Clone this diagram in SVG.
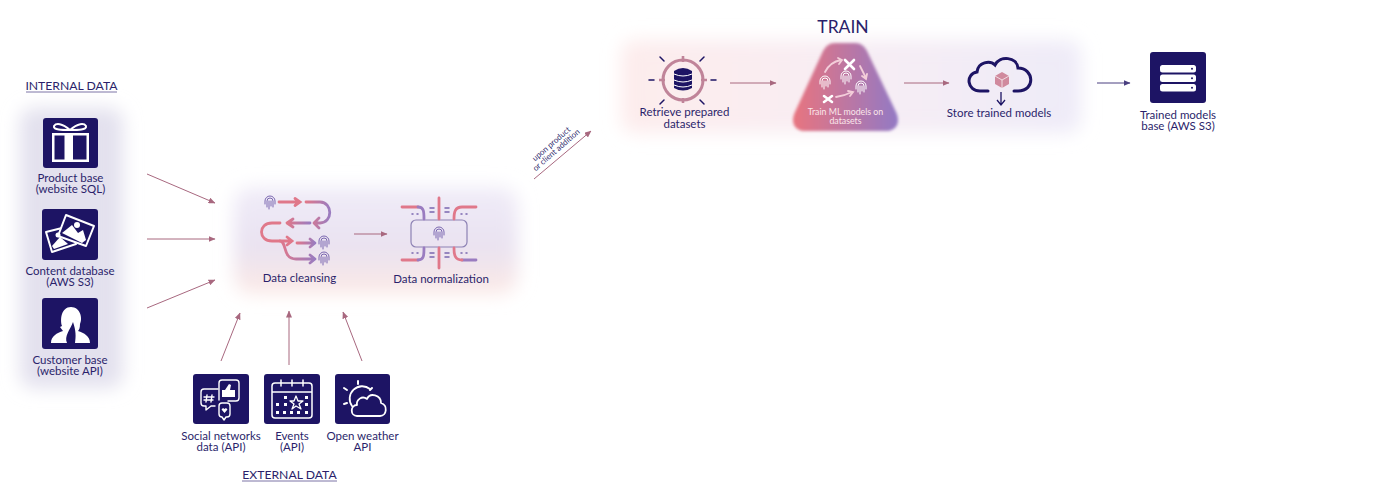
<svg xmlns="http://www.w3.org/2000/svg" width="1400" height="499" viewBox="0 0 1400 499">
<style>
text{font-family:"Lato","Noto Sans",sans-serif;fill:#2b1f6b;font-size:11.5px;text-anchor:middle}
.h{font-size:12.2px;fill:#2b1f6b}
.tile{fill:#1d1464}
.w{fill:none;stroke:#fff;stroke-width:2;stroke-linecap:round;stroke-linejoin:round}
.wf{fill:#fff}
.c{fill:none;stroke:#a8687f;stroke-width:1;marker-end:url(#ah)}
.p{fill:none;stroke:url(#fl);stroke-width:2.8;stroke-linecap:round;stroke-linejoin:round}
.r{fill:none;stroke:#e0788a;stroke-width:2.8;stroke-linecap:round}
.v{fill:none;stroke:#9a7cc0;stroke-width:2.8;stroke-linecap:round}
.fp{fill:none;stroke:#7a66b0;stroke-width:1;stroke-linecap:round}
.dot{fill:none;stroke:#7a66b0;stroke-width:1.5;stroke-linecap:round}
.d{fill:none;stroke:#1d1464;stroke-width:3;stroke-linecap:round}
</style>
<defs>
<marker id="ah" markerWidth="7" markerHeight="6" refX="6.500" refY="3" orient="auto" markerUnits="userSpaceOnUse"><path d="M0 0L7 3L0 6z" fill="#a8687f"/></marker>
<marker id="ad" markerWidth="7" markerHeight="6" refX="6.500" refY="3" orient="auto" markerUnits="userSpaceOnUse"><path d="M0 0L7 3L0 6z" fill="#4a3f80"/></marker>
<filter id="b" x="-25%" y="-25%" width="150%" height="150%"><feGaussianBlur stdDeviation="9"/></filter>
<filter id="b2" x="-20%" y="-20%" width="140%" height="140%"><feGaussianBlur stdDeviation="1.800"/></filter>
<linearGradient id="pg1" x1="0" y1="0" x2="0" y2="1"><stop offset="0" stop-color="#f0ecf8"/><stop offset=".55" stop-color="#e9e2f1"/><stop offset="1" stop-color="#fce9e5"/></linearGradient>
<linearGradient id="pg2" x1="0" y1="0" x2="1" y2="0"><stop offset="0" stop-color="#fdecec"/><stop offset=".45" stop-color="#f8edf3"/><stop offset="1" stop-color="#eeebf8"/></linearGradient>
<linearGradient id="tg" x1="0" y1="0" x2="1" y2="0"><stop offset="0" stop-color="#e8747f"/><stop offset="1" stop-color="#9379c4"/></linearGradient>
<linearGradient id="fl" x1="0" y1="0" x2="1" y2="0"><stop offset="0" stop-color="#e0788a"/><stop offset="1" stop-color="#9a7cc0"/></linearGradient>
<g id="fp"><path class="fp" d="M-5 2V-1a5 5 0 0 1 10 0V2M-3 5V-1a3 3 0 0 1 6 0V5M-1 7V-1M1 4V-1"/></g>
<g id="fpw"><path d="M-5 2V-1a5 5 0 0 1 10 0V2M-3 5V-1a3 3 0 0 1 6 0V5M-1 7V-1M1 4V-1" fill="none" stroke="#fff" stroke-width="1" stroke-linecap="round"/></g>
</defs>

<g id="panels">
<rect x="20" y="108" width="103" height="280" rx="14" fill="#e3e1ee" filter="url(#b)"/>
<rect x="234" y="187" width="284" height="107" rx="18" fill="url(#pg1)" filter="url(#b)"/>
<rect x="621" y="40" width="460" height="93" rx="14" fill="url(#pg2)" filter="url(#b)"/>
</g>

<g id="connectors">
<path class="c" d="M147 174L215 203"/>
<path class="c" d="M147 239L215 239"/>
<path class="c" d="M147 308L215 280"/>
<path class="c" d="M221 361L240 313"/>
<path class="c" d="M289 365L289 311"/>
<path class="c" d="M362 361L343 312"/>
<path class="c" d="M354 234L387 234"/>
<path class="c" d="M534 179L591 131"/>
<path class="c" d="M730 83L776 83"/>
<path class="c" d="M904 83L949 83"/>
<path d="M1097 83L1130 83" fill="none" stroke="#4a3f80" stroke-width="1" marker-end="url(#ad)"/>
</g>

<g id="internal-title"><text class="h" x="71.500" y="90">INTERNAL DATA</text><path d="M26 92H117" stroke="#5a5190" stroke-width=".8"/></g>

<g id="product-base">
<rect class="tile" x="43" y="118" width="55" height="50" rx="3"/>
<path class="wf" d="M52 133H89V162H52zM54.500 135.500V159.500H64.500V135.500zM73 135.500V159.500H86.500V135.500z" fill-rule="evenodd"/>
<path class="w" d="M70 130C62 123 56 123 54 126C53 130 62 130 70 130C78 130 87 130 86 126C84 123 78 123 70 130"/>
<text x="70.500" y="182">Product base</text><text x="70.500" y="193">(website SQL)</text>
</g>

<g id="content-database">
<rect class="tile" x="42" y="209" width="56" height="51" rx="3"/>
<path d="M46 232L70 226L76 244L52 252z" fill="#1d1464" stroke="#fff" stroke-width="2" stroke-linejoin="round"/>
<path d="M66 215L94 226L86 246L58 236z" fill="#1d1464" stroke="#fff" stroke-width="2" stroke-linejoin="round"/>
<path class="wf" d="M62 233L72 225L78 233L83 230L86 240L82 243z"/><circle class="wf" cx="77" cy="225" r="3"/>
<path class="wf" d="M52 246L60 237L68 244L54 249z"/><circle class="wf" cx="58" cy="235" r="2.500"/>
<text x="70" y="275">Content database</text><text x="70" y="286">(AWS S3)</text>
</g>

<g id="customer-base">
<rect class="tile" x="42" y="298" width="56" height="51" rx="3"/>
<path class="wf" d="M51 343C51 336 57 333 63 331L60 327L62 326C60 320 61 307 71 307C80 307 83 318 80 324C80 328 79 330 78 331C84 333 90 336 90 343H75C76 336 76 331 73 322C70 330 64 336 67 343z"/>
<text x="70" y="364">Customer base</text><text x="70" y="375">(website API)</text>
</g>

<g id="data-cleansing">
<use href="#fp" x="270" y="202"/><use href="#fp" x="324" y="242"/><use href="#fp" x="324" y="258"/>
<path class="r" d="M279 202H298M295 198.500L300 202L295 205.500"/>
<path class="p" d="M306 202H320C333 202 333 223 320 223H315M319 218L314 223L319 228"/>
<path class="p" d="M310 223H290M293 219L287 223L293 227"/>
<path class="r" d="M280 223H272C258 223 258 241 272 241H290M287 237L292 241L287 245"/>
<path class="p" d="M297 243H313M310 239L315 243L310 247"/>
<path class="p" d="M280 241C287 241 282 259 296 259H313M310 255L315 259L310 263"/>
<text x="299.500" y="282">Data cleansing</text>
</g>

<g id="data-normalization">
<rect x="411" y="220" width="56" height="27" rx="5" fill="none" stroke="#8d82b4" stroke-width="1.200"/>
<use href="#fp" x="439" y="233"/>
<path class="r" d="M439 198V219M439 248V268M402 207H418"/><path class="v" d="M418 207C424 207 424 212 424 219"/>
<path class="r" d="M476 207H462C455 207 454 212 454 219"/>
<path class="r" d="M402 260H418"/><path class="v" d="M418 260C424 260 424 255 424 248"/>
<path class="v" d="M476 260H462"/><path class="r" d="M462 260C455 260 454 255 454 248"/>
<path class="dot" d="M430 208H434M430 212H434M445 208H449M445 212H449M430 253H434M430 257H434M445 253H449M445 257H449M412 214H413M417 214H418M461 214H462M466 214H467M412 253H413M417 253H418M461 253H462M466 253H467"/>
<text x="441" y="283">Data normalization</text>
</g>

<g id="social-networks">
<rect class="tile" x="193" y="374" width="56" height="50" rx="3"/>
<path class="w" style="stroke-width:1.400" d="M218 389H204Q201 389 201 392V403Q201 406 204 406H206V410L211 406H215"/>
<path class="w" style="stroke-width:1.400" d="M219 400V383Q219 380 222 380H236Q239 380 239 383V398Q239 401 236 401H228"/>
<path class="w" style="stroke-width:1.400" d="M219 406Q219 403 222 403H227Q230 403 230 406V414Q230 417 227 417H226L224 420L222 417Q219 417 219 414z"/>
<path class="wf" d="M222 397V390H225L229 384L231 385L230 390H235V397z"/>
<path class="w" style="stroke-width:1.400" d="M207 395L206 402M212 395L211 402M204 397H214M204 400H213"/>
<path class="wf" d="M224.500 413L221.500 409.500L223 408L224.500 409L226 408L227.500 409.500z"/>
<text x="221" y="440">Social networks</text><text x="221" y="451">data (API)</text>
</g>

<g id="events">
<rect class="tile" x="264" y="374" width="56" height="50" rx="3"/>
<path class="w" style="stroke-width:1.500" d="M275 383H309Q312 383 312 386V415Q312 418 309 418H275Q272 418 272 415V386Q272 383 275 383zM272 392H312M281 380V386M292 380V386M303 380V386"/>
<path class="w" style="stroke-width:1.300" d="M296 396L298 401L303 401L299 404L301 409L296 406L292 409L294 404L290 401L294 401z"/>
<path class="wf" d="M284 396h3v3h-3zM284 403h3v3h-3zM276 403h3v3h-3zM305 396h3v3h-3zM305 403h3v3h-3zM276 411h3v3h-3zM283 411h3v3h-3zM290 411h3v3h-3zM297 411h3v3h-3zM305 411h3v3h-3z"/>
<text x="292" y="440">Events</text><text x="292" y="451">(API)</text>
</g>

<g id="open-weather">
<rect class="tile" x="335" y="374" width="55" height="50" rx="3"/>
<path class="w" style="stroke-width:1.800" d="M352 406A12.500 12.500 0 0 1 370 389M357 416H380C387 416 388 405 381 403C381 395 370 392 367 399C362 395 356 400 357 405C350 405 350 416 357 416z"/>
<path class="w" d="M358 381V384M344 388L347 390M372 388L370 390M344 404L347 403"/>
<text x="362.500" y="440">Open weather</text><text x="362.500" y="451">API</text>
</g>

<g id="external-title"><text class="h" x="289.500" y="479">EXTERNAL DATA</text><path d="M242 481H337" stroke="#5a5190" stroke-width=".8"/></g>

<g id="upon-label">
<text transform="translate(553 146) rotate(-41)" style="font-size:8px">upon product</text>
<text transform="translate(558 152) rotate(-41)" style="font-size:8px">or client addition</text>
</g>

<g id="train-title"><text x="843" y="33" style="font-size:17.500px">TRAIN</text></g>

<g id="retrieve">
<circle cx="683" cy="80" r="20" fill="none" stroke="#c08499" stroke-width="3"/>
<path d="M683 56V62M683 98V103M659 80H665M701 80H707" stroke="#c08499" stroke-width="2.600"/>
<path d="M649 80H654M711 80H716M660 57L664 61M704 57L700 61M664 100L660 104M700 100L704 104" stroke="#1d1464" stroke-width="1.500" stroke-linecap="round"/>
<path d="M674 71Q683 65 692 71V88Q683 93 674 88z" fill="#1d1464"/>
<path d="M674 74Q683 78 692 74M674 80Q683 84 692 80M674 85Q683 89 692 85" fill="none" stroke="#fff" stroke-width="1"/>
<text x="684.500" y="116">Retrieve prepared</text><text x="684.500" y="128">datasets</text>
</g>

<g id="train-models">
<path d="M835 43H855C861 43 864 46 867 51L896 112C901 123 896 131 886 131H805C795 131 790 123 795 112L823 51C826 46 829 43 835 43z" fill="url(#tg)" filter="url(#b2)"/>
<path d="M825 72Q830 62 841 60M838 58L842 60L839 64M860 66L866 78M862 76L866 79L867 74M836 97Q844 96 852 92M848 91L853 92L850 96" fill="none" stroke="#f3cdd9" stroke-width="1.800" stroke-linecap="round"/>
<path d="M845 60L854 69M854 60L845 69M824 96L832 102M832 96L824 102" stroke="#fff" stroke-width="2.600" stroke-linecap="round"/>
<use href="#fpw" x="825" y="82"/><use href="#fpw" x="846" y="77"/><use href="#fpw" x="861" y="87"/>
<text x="845.500" y="115" style="fill:#fbe6ea;font-size:8.800px">Train ML models on</text><text x="845.500" y="124" style="fill:#fbe6ea;font-size:8.800px">datasets</text>
</g>

<g id="store">
<path class="d" d="M988 91H980C967 91 965 74 977 72C978 62 990 60 995 65C1000 55 1017 57 1018 68C1034 68 1036 91 1018 91H1014"/>
<path d="M1002 72L1009 76V84L1002 88L995 84V76z" fill="#d08a9e"/><path d="M995 76L1002 80L1009 76M1002 80V88" stroke="#fff" stroke-width=".7" fill="none"/>
<path d="M1001 92V104M997 100L1001 105L1005 100" fill="none" stroke="#1d1464" stroke-width="1.300"/>
<text x="999" y="117">Store trained models</text>
</g>

<g id="trained-base">
<rect class="tile" x="1150" y="52" width="56" height="51" rx="3"/>
<rect class="wf" x="1160" y="65" width="36" height="7.500" rx="2.500"/><rect class="wf" x="1160" y="74.500" width="36" height="7.500" rx="2.500"/><rect class="wf" x="1160" y="84" width="36" height="7.500" rx="2.500"/>
<circle class="tile" cx="1192" cy="68.700" r="1"/><circle class="tile" cx="1192" cy="78.200" r="1"/><circle class="tile" cx="1192" cy="87.700" r="1"/>
<text x="1178" y="119">Trained models</text><text x="1178" y="130">base (AWS S3)</text>
</g>
</svg>
